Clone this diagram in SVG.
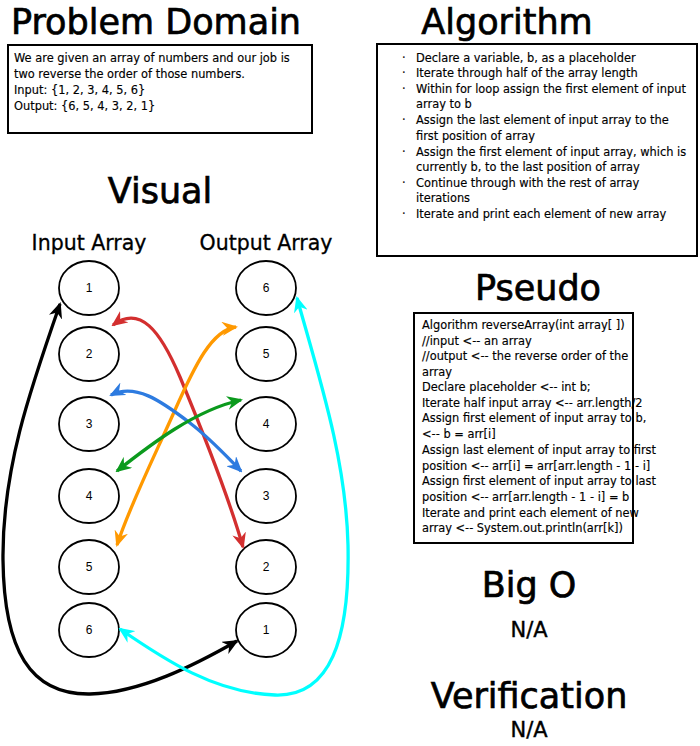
<svg xmlns="http://www.w3.org/2000/svg" width="700" height="746" viewBox="0 0 700 746">
<style>
.h{font-family:"DejaVu Sans",sans-serif;font-size:35px;fill:#000;stroke:#000;stroke-width:0.7}
.sub{font-family:"DejaVu Sans",sans-serif;font-size:20.5px;fill:#000;text-anchor:middle;stroke:#000;stroke-width:0.3}
.t{font-family:"DejaVu Sans",sans-serif;font-size:11.4px;fill:#000;stroke:#000;stroke-width:0.15}
.box{fill:#fff;stroke:#000;stroke-width:2}
.node ellipse{fill:#fff;stroke:#000;stroke-width:1.8}
.node text{font-family:"Liberation Sans",Arial,sans-serif;font-size:12px;text-anchor:middle;fill:#000}
.na{font-family:"DejaVu Sans",sans-serif;font-size:21px;text-anchor:middle;fill:#000;stroke:#000;stroke-width:0.4}
.c{fill:none;stroke-width:3.3}
</style>
<defs>
<marker id="mk" viewBox="0 0 16 14" refX="14" refY="7" markerWidth="16" markerHeight="14" markerUnits="userSpaceOnUse" orient="auto-start-reverse"><path d="M0,0 L16,7 L0,14 L5,7 Z" fill="#000"/></marker>
<marker id="mc" viewBox="0 0 16 14" refX="14" refY="7" markerWidth="16" markerHeight="14" markerUnits="userSpaceOnUse" orient="auto-start-reverse"><path d="M0,0 L16,7 L0,14 L5,7 Z" fill="#00ffff"/></marker>
<marker id="mr" viewBox="0 0 16 14" refX="14" refY="7" markerWidth="16" markerHeight="14" markerUnits="userSpaceOnUse" orient="auto-start-reverse"><path d="M0,0 L16,7 L0,14 L5,7 Z" fill="#d32f2f"/></marker>
<marker id="mo" viewBox="0 0 16 14" refX="14" refY="7" markerWidth="16" markerHeight="14" markerUnits="userSpaceOnUse" orient="auto-start-reverse"><path d="M0,0 L16,7 L0,14 L5,7 Z" fill="#ff9900"/></marker>
<marker id="mb" viewBox="0 0 16 14" refX="14" refY="7" markerWidth="16" markerHeight="14" markerUnits="userSpaceOnUse" orient="auto-start-reverse"><path d="M0,0 L16,7 L0,14 L5,7 Z" fill="#2d7be0"/></marker>
<marker id="mg" viewBox="0 0 16 14" refX="14" refY="7" markerWidth="16" markerHeight="14" markerUnits="userSpaceOnUse" orient="auto-start-reverse"><path d="M0,0 L16,7 L0,14 L5,7 Z" fill="#0b9a1d"/></marker>
</defs>
<rect width="700" height="746" fill="#fff"/>

<g id="problem-domain">
<text class="h" x="11" y="34">Problem Domain</text>
<rect class="box" x="8" y="45" width="304" height="88"/>
<text class="t" x="14" y="62">We are given an array of numbers and our job is</text>
<text class="t" x="14" y="78">two reverse the order of those numbers.</text>
<text class="t" x="14" y="94">Input: {1, 2, 3, 4, 5, 6}</text>
<text class="t" x="14" y="110">Output: {6, 5, 4, 3, 2, 1}</text>
</g>

<g id="algorithm">
<text class="h" x="507" y="34" text-anchor="middle">Algorithm</text>
<rect class="box" x="377" y="44" width="320" height="212"/>
<g class="t">
<text x="402" y="62">·</text><text x="416" y="62">Declare a variable, b, as a placeholder</text>
<text x="402" y="77">·</text><text x="416" y="77">Iterate through half of the array length</text>
<text x="402" y="93">·</text><text x="416" y="93">Within for loop assign the first element of input</text>
<text x="416" y="108">array to b</text>
<text x="402" y="124">·</text><text x="416" y="124">Assign the last element of input array to the</text>
<text x="416" y="140">first position of array</text>
<text x="402" y="156">·</text><text x="416" y="156">Assign the first element of input array, which is</text>
<text x="416" y="171">currently b, to the last position of array</text>
<text x="402" y="187">·</text><text x="416" y="187">Continue through with the rest of array</text>
<text x="416" y="202">iterations</text>
<text x="402" y="218">·</text><text x="416" y="218">Iterate and print each element of new array</text>
</g>
</g>

<g id="visual-title">
<text class="h" x="160" y="203" text-anchor="middle">Visual</text>
<text class="sub" x="89" y="250">Input Array</text>
<text class="sub" x="266" y="250">Output Array</text>
</g>

<g id="pseudo">
<text class="h" x="538" y="300" text-anchor="middle">Pseudo</text>
<rect class="box" x="414" y="313" width="219" height="230"/>
<g class="t">
<text x="422" y="329">Algorithm reverseArray(int array[ ])</text>
<text x="422" y="345">//input &lt;-- an array</text>
<text x="422" y="360">//output &lt;-- the reverse order of the</text>
<text x="422" y="376">array</text>
<text x="422" y="391">Declare placeholder &lt;-- int b;</text>
<text x="422" y="407">Iterate half input array &lt;-- arr.length/2</text>
<text x="422" y="422">Assign first element of input array to b,</text>
<text x="422" y="438">&lt;-- b = arr[i]</text>
<text x="422" y="454">Assign last element of input array to first</text>
<text x="422" y="470">position &lt;-- arr[i] = arr[arr.length - 1 - i]</text>
<text x="422" y="485">Assign first element of input array to last</text>
<text x="422" y="501">position &lt;-- arr[arr.length - 1 - i] = b</text>
<text x="422" y="517">Iterate and print each element of new</text>
<text x="422" y="532">array &lt;-- System.out.println(arr[k])</text>
</g>
</g>

<g id="big-o">
<text class="h" x="529" y="597" text-anchor="middle">Big O</text>
<text class="na" x="529" y="637">N/A</text>
</g>
<g id="verification">
<text class="h" x="529" y="708" text-anchor="middle">Verification</text>
<text class="na" x="529" y="737">N/A</text>
</g>

<g id="in1" class="node"><ellipse cx="89" cy="288" rx="30" ry="27"/><text x="89" y="292">1</text></g>
<g id="in2" class="node"><ellipse cx="89" cy="354" rx="30" ry="27"/><text x="89" y="358">2</text></g>
<g id="in3" class="node"><ellipse cx="89" cy="424" rx="30" ry="27"/><text x="89" y="428">3</text></g>
<g id="in4" class="node"><ellipse cx="89" cy="496" rx="30" ry="27"/><text x="89" y="500">4</text></g>
<g id="in5" class="node"><ellipse cx="89" cy="567" rx="30" ry="27"/><text x="89" y="571">5</text></g>
<g id="in6" class="node"><ellipse cx="89" cy="630" rx="30" ry="27"/><text x="89" y="634">6</text></g>
<g id="out6" class="node"><ellipse cx="266" cy="288" rx="30" ry="27"/><text x="266" y="292">6</text></g>
<g id="out5" class="node"><ellipse cx="266" cy="354" rx="30" ry="27"/><text x="266" y="358">5</text></g>
<g id="out4" class="node"><ellipse cx="266" cy="424" rx="30" ry="27"/><text x="266" y="428">4</text></g>
<g id="out3" class="node"><ellipse cx="266" cy="496" rx="30" ry="27"/><text x="266" y="500">3</text></g>
<g id="out2" class="node"><ellipse cx="266" cy="567" rx="30" ry="27"/><text x="266" y="571">2</text></g>
<g id="out1" class="node"><ellipse cx="266" cy="630" rx="30" ry="27"/><text x="266" y="634">1</text></g>

<g id="connectors">
<path class="c" stroke="#000" marker-start="url(#mk)" marker-end="url(#mk)" d="M60,304 C30,390 2,470 3,560 C4,650 30,695 90,694 C140,693 195,665 237,641"/>
<path class="c" stroke="#00ffff" marker-start="url(#mc)" marker-end="url(#mc)" d="M297,298 C320,380 346,460 348,545 C350,640 330,697 275,695 C215,693 165,660 120,629"/>
<path class="c" stroke="#d32f2f" marker-start="url(#mr)" marker-end="url(#mr)" d="M113,325 C140,305 160,330 180,377 C200,425 228,495 243,547"/>
<path class="c" stroke="#ff9900" marker-start="url(#mo)" marker-end="url(#mo)" d="M236,327 C212,330 195,365 175,410 C155,455 130,505 117,545"/>
<path class="c" stroke="#2d7be0" marker-start="url(#mb)" marker-end="url(#mb)" d="M111,395 C135,383 160,400 190,423 C212,440 228,458 241,471"/>
<path class="c" stroke="#0b9a1d" marker-start="url(#mg)" marker-end="url(#mg)" d="M117,471 C150,445 195,410 241,400"/>
</g>
</svg>
